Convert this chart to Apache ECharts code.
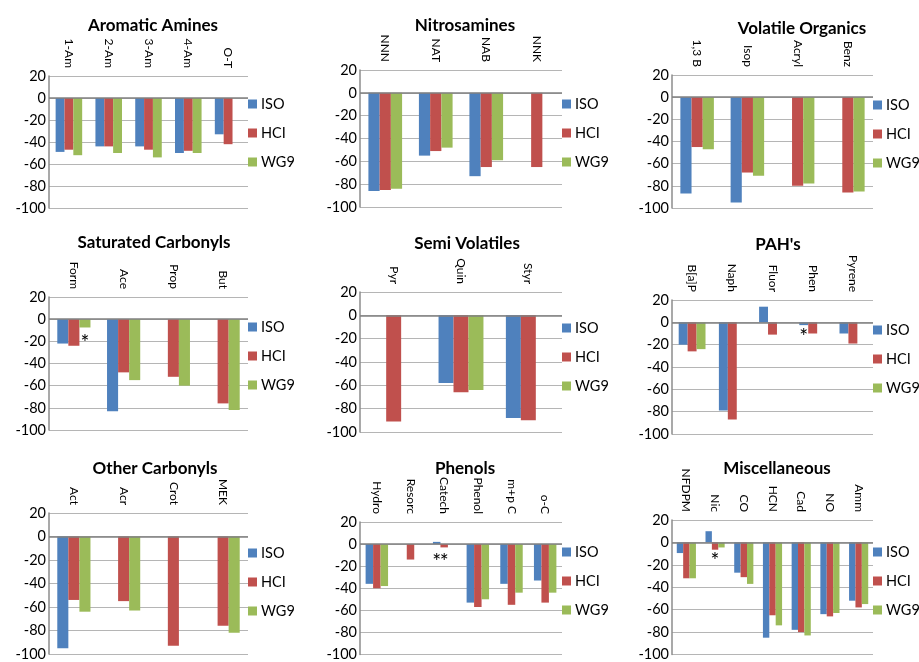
<!DOCTYPE html>
<html>
<head>
<meta charset="utf-8">
<script src="https://cdn.jsdelivr.net/npm/echarts@6/dist/echarts.min.js"></script>
<style>
html,body{margin:0;padding:0;background:#fff;}
#chart{width:919px;height:662px;}
</style>
</head>
<body>
<div id="chart"></div>
<script>
// ---------- data ----------
const seriesNames = ['ISO', 'HCI', 'WG9'];
const yTicks = [-100, -80, -60, -40, -20, 0, 20];

// Aromatic Amines
const amineCats = ['1-Am', '2-Am', '3-Am', '4-Am', 'O-T'];
const amineISO = [-49, -44, -44, -50, -33];
const amineHCI = [-47, -44, -47, -48, -42];
const amineWG9 = [-52, -50, -54, -50, null];

// Nitrosamines
const nitroCats = ['NNN', 'NAT', 'NAB', 'NNK'];
const nitroISO = [-86, -55, -73, null];
const nitroHCI = [-85, -51, -65, -65];
const nitroWG9 = [-84, -48, -59, null];

// Volatile Organics
const volCats = ['1,3 B', 'Isop', 'Acryl', 'Benz'];
const volISO = [-87, -95, null, null];
const volHCI = [-45, -68, -80, -86];
const volWG9 = [-47, -71, -78, -85];

// Saturated Carbonyls
const satCats = ['Form', 'Ace', 'Prop', 'But'];
const satISO = [-22, -83, null, null];
const satHCI = [-24, -48, -52, -76];
const satWG9 = [-7.5, -55, -60, -82];
const satStarsWG9 = [['Form', -18]];

// Semi Volatiles
const semiCats = ['Pyr', 'Quin', 'Styr'];
const semiISO = [null, -58, -88];
const semiHCI = [-91, -66, -90];
const semiWG9 = [null, -64, null];

// PAH's
const pahCats = ['B[a]P', 'Naph', 'Fluor', 'Phen', 'Pyrene'];
const pahISO = [-20, -79, 14, -2.5, -10];
const pahHCI = [-26, -87, -11, -10, -19];
const pahWG9 = [-24, null, null, null, null];
const pahStarsISO = [['Phen', -10]];

// Other Carbonyls
const othCats = ['Act', 'Acr', 'Crot', 'MEK'];
const othISO = [-95, null, null, null];
const othHCI = [-54, -55, -93, -76];
const othWG9 = [-64, -63, null, -82];

// Phenols
const phenCats = ['Hydro', 'Resorc', 'Catech', 'Phenol', 'm+p C', 'o-C'];
const phenISO = [-36, null, 2, -53, -36, -33];
const phenHCI = [-40, -14, -3, -57, -55, -53];
const phenWG9 = [-38, null, null, -50, -44, -44];
const phenStarsISO = [['Catech', -12.5]];
const phenStarsHCI = [['Catech', -12.5]];

// Miscellaneous
const miscCats = ['NFDPM', 'Nic', 'CO', 'HCN', 'Cad', 'NO', 'Amm'];
const miscISO = [-9.5, 10, -27, -85, -78, -64, -52];
const miscHCI = [-32, -6.5, -31, -65, -80, -66, -58];
const miscWG9 = [-32, -4.5, -37, -74, -83, -63, -55];
const miscStarsHCI = [['Nic', -13]];

const panels = [
  {title: 'Aromatic Amines', cats: amineCats, vals: [amineISO, amineHCI, amineWG9], stars: [[], [], []]},
  {title: 'Nitrosamines', cats: nitroCats, vals: [nitroISO, nitroHCI, nitroWG9], stars: [[], [], []]},
  {title: 'Volatile Organics', cats: volCats, vals: [volISO, volHCI, volWG9], stars: [[], [], []]},
  {title: 'Saturated Carbonyls', cats: satCats, vals: [satISO, satHCI, satWG9], stars: [[], [], satStarsWG9]},
  {title: 'Semi Volatiles', cats: semiCats, vals: [semiISO, semiHCI, semiWG9], stars: [[], [], []]},
  {title: "PAH's", cats: pahCats, vals: [pahISO, pahHCI, pahWG9], stars: [pahStarsISO, [], []]},
  {title: 'Other Carbonyls', cats: othCats, vals: [othISO, othHCI, othWG9], stars: [[], [], []]},
  {title: 'Phenols', cats: phenCats, vals: [phenISO, phenHCI, phenWG9], stars: [phenStarsISO, phenStarsHCI, []]},
  {title: 'Miscellaneous', cats: miscCats, vals: [miscISO, miscHCI, miscWG9], stars: [[], miscStarsHCI, []]}
];

// ---------- layout / style ----------
const colors = ['#4F81BD', '#C0504D', '#9BBB59'];
const layout = [
  {left: 49,  width: 199, top: 76,  height: 132, tx: 148, ty: 22, ly: 104},
  {left: 360, width: 202, top: 70,  height: 137, tx: 460, ty: 22, ly: 104},
  {left: 672, width: 201, top: 75,  height: 133, tx: 797, ty: 25, ly: 105},
  {left: 49,  width: 199, top: 297, height: 133, tx: 149, ty: 239, ly: 327},
  {left: 360, width: 202, top: 292, height: 140, tx: 462, ty: 240, ly: 328},
  {left: 672, width: 201, top: 300, height: 134, tx: 773, ty: 241, ly: 330},
  {left: 49,  width: 199, top: 513, height: 141, tx: 150, ty: 465, ly: 553},
  {left: 360, width: 202, top: 522, height: 133, tx: 460, ty: 465, ly: 552},
  {left: 672, width: 201, top: 520, height: 136, tx: 772, ty: 465, ly: 552}
];
const FONT = 'Lato, "Open Sans", sans-serif';

const grids = [], xAxes = [], yAxes = [], series = [], titles = [], legends = [];
panels.forEach((p, i) => {
  const L = layout[i];
  grids.push({left: L.left, top: L.top, width: L.width, height: L.height, containLabel: false});
  titles.push({
    text: p.title, left: L.tx, top: L.ty - 10, textAlign: 'center',
    textStyle: {fontFamily: FONT, fontSize: 17, fontWeight: 'bold', color: '#000'}
  });
  legends.push({
    data: seriesNames, orient: 'vertical', left: L.left + L.width, top: L.ly - 7.5,
    padding: 0, itemWidth: 9, itemHeight: 9, itemGap: 14, icon: 'rect',
    selectedMode: false,
    textStyle: {fontFamily: FONT, fontSize: 14.5, lineHeight: 15, color: '#000', padding: [0, 0, 0, -1]}
  });
  xAxes.push({
    type: 'category', gridIndex: i, data: p.cats, position: 'top',
    axisLine: {show: false}, axisTick: {show: false},
    axisLabel: {rotate: -90, interval: 0, margin: 8, fontFamily: FONT, fontSize: 12, color: '#000'}
  });
  yAxes.push({
    type: 'value', gridIndex: i, min: yTicks[0], max: yTicks[yTicks.length - 1], interval: 20,
    axisLine: {show: true, lineStyle: {color: '#8c8c8c', width: 1.5}},
    axisTick: {show: false},
    axisLabel: {margin: 3, fontFamily: FONT, fontSize: 14.5, color: '#000'},
    splitLine: {show: true, lineStyle: {color: '#b5b5b5', width: 1}}
  });
  p.vals.forEach((vals, k) => {
    const s = {
      name: seriesNames[k], type: 'bar', xAxisIndex: i, yAxisIndex: i,
      data: vals, barGap: '0%', barCategoryGap: '33.3%',
      itemStyle: {color: colors[k]}, animation: false
    };
    if (k === 0) {
      s.markLine = {
        silent: true, symbol: ['none', 'none'], label: {show: false}, animation: false,
        lineStyle: {color: '#808080', type: 'solid', width: 1.5},
        data: [{yAxis: 0}]
      };
    }
    if (p.stars[k].length) {
      s.markPoint = {
        silent: true, animation: false, symbol: 'rect', symbolSize: 1,
        itemStyle: {color: 'rgba(0,0,0,0)'},
        label: {show: true, position: 'inside', formatter: '*', fontFamily: FONT, fontSize: 21, color: '#000', offset: [0, 4]},
        data: p.stars[k].map(c => ({coord: c}))
      };
    }
    series.push(s);
  });
});

const chart = echarts.init(document.getElementById('chart'), null, {renderer: 'canvas'});
chart.setOption({
  backgroundColor: '#fff',
  animation: false,
  title: titles,
  legend: legends,
  grid: grids,
  xAxis: xAxes,
  yAxis: yAxes,
  series: series
});
</script>
</body>
</html>
